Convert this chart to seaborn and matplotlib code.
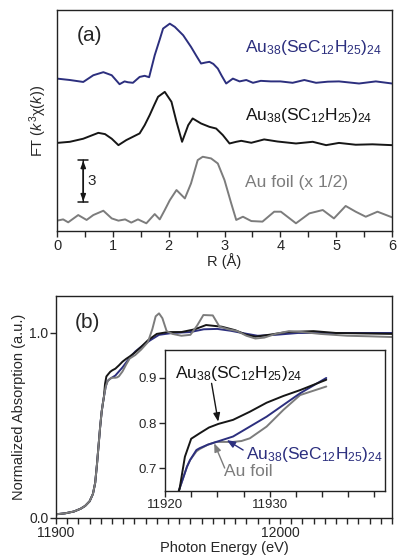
import numpy as np
import pandas as pd
import matplotlib
matplotlib.use("Agg")
import matplotlib.pyplot as plt
from matplotlib.ticker import MultipleLocator, FixedLocator
import seaborn as sns

# ---- panel (a): FT of k^3 chi(k), curves as shown (with vertical offsets) ----
sec_r = [0, 0.23, 0.47, 0.65, 0.83, 0.98, 1.12, 1.21, 1.27, 1.36, 1.48, 1.57, 1.65, 1.75,
         1.84, 1.9, 2.02, 2.11, 2.26, 2.4, 2.5, 2.58, 2.66, 2.73, 2.8, 2.88, 2.95, 3.03,
         3.15, 3.27, 3.39, 3.51, 3.65, 3.83, 4.0, 4.22, 4.43, 4.64, 4.85, 5.05, 5.41, 5.71, 6.0]
sec_ft = [10.9, 10.8, 10.66, 11.14, 11.36, 11.14, 10.5, 10.7, 10.64, 10.6, 11.02, 11.1, 11.0,
          12.57, 13.7, 14.48, 14.83, 14.6, 14.0, 13.17, 12.5, 11.98, 12.05, 12.1, 11.95,
          11.62, 11.1, 10.55, 10.9, 10.7, 10.8, 10.6, 10.74, 10.7, 10.7, 10.6, 10.8, 10.6,
          10.68, 10.7, 10.55, 10.7, 10.55]

sc_r = [0, 0.23, 0.47, 0.74, 0.86, 0.98, 1.1, 1.24, 1.42, 1.48, 1.57, 1.66, 1.74, 1.81, 1.93,
        2.05, 2.14, 2.24, 2.35, 2.43, 2.58, 2.73, 2.85, 2.97, 3.09, 3.21, 3.3, 3.48, 3.71,
        3.95, 4.28, 4.58, 4.82, 5.05, 5.35, 5.65, 6.0]
sc_ft = [6.3, 6.38, 6.6, 7.02, 6.93, 6.6, 6.14, 6.5, 6.86, 6.98, 7.57, 8.29, 9.0, 9.6, 9.95,
         9.24, 7.81, 6.38, 7.57, 8.05, 7.69, 7.45, 7.33, 6.86, 6.26, 6.38, 6.45, 6.31, 6.55,
         6.4, 6.26, 6.38, 6.14, 6.3, 6.17, 6.2, 6.14]

foil_r = [0, 0.11, 0.2, 0.38, 0.53, 0.65, 0.83, 0.98, 1.1, 1.22, 1.33, 1.45, 1.6, 1.75, 1.84,
          1.93, 2.02, 2.14, 2.29, 2.4, 2.52, 2.61, 2.76, 2.88, 3.0, 3.12, 3.21, 3.33, 3.48,
          3.68, 3.89, 4.01, 4.28, 4.52, 4.76, 4.96, 5.17, 5.35, 5.53, 5.74, 6.0]
foil_ft = [0.74, 0.83, 0.62, 1.14, 0.79, 1.14, 1.45, 0.9, 0.74, 0.83, 0.6, 0.83, 0.55, 1.21,
           0.83, 1.5, 2.2, 2.93, 2.33, 3.4, 5.07, 5.31, 5.19, 4.83, 3.64, 1.98, 0.79, 1.02,
           0.71, 0.67, 1.38, 1.38, 0.55, 1.26, 1.5, 0.9, 1.79, 1.38, 1.02, 1.38, 0.98]

scale_bar = 3  # FT units

# ---- panel (b): Au L3-edge XANES ----
edge_e = [11900, 11904, 11908, 11911, 11913, 11915, 11916.5, 11917.5, 11918.3, 11919.0,
          11919.7, 11920.4, 11921.0, 11921.4]
edge_a = [0.02, 0.025, 0.035, 0.05, 0.065, 0.09, 0.13, 0.19, 0.29, 0.39, 0.49, 0.575, 0.625, 0.655]

sc_e = [11921.9, 11922.2, 11922.5, 11923.3, 11924.2, 11925.1, 11926.5, 11928.1, 11929.7,
        11931.3, 11932.9, 11935.4, 11938, 11941, 11945, 11950, 11956, 11962, 11967, 11974,
        11980, 11985, 11989, 11995, 12003, 12015, 12025, 12035, 12050]
sc_a = [0.725, 0.745, 0.765, 0.777, 0.79, 0.798, 0.807, 0.825, 0.845, 0.86, 0.873, 0.896,
        0.925, 0.96, 0.995, 1.005, 1.005, 1.02, 1.043, 1.034, 1.015, 0.99, 0.98, 0.99,
        1.005, 1.01, 1.0, 0.998, 0.995]

sec_e = [11922.1, 11922.4, 11923.0, 11923.3, 11924.1, 11924.9, 11926.5, 11928.1, 11929.7,
         11931.3, 11932.9, 11935.4, 11938, 11942, 11946, 11952, 11960, 11966, 11972, 11978,
         11984, 11990, 11998, 12008, 12020, 12035, 12050]
sec_a = [0.703, 0.718, 0.74, 0.744, 0.752, 0.758, 0.77, 0.792, 0.814, 0.84, 0.866, 0.9, 0.925,
         0.96, 0.99, 1.0, 1.005, 1.02, 1.022, 1.012, 0.998, 0.985, 0.99, 1.0, 1.0, 1.0, 1.0]

foil_e = [11922.1, 11922.4, 11923.0, 11923.3, 11924.1, 11924.9, 11926.5, 11927.3, 11928.1,
          11929.7, 11931.3, 11932.9, 11935.4, 11938, 11941, 11943, 11944.5, 11946,
          11947.5, 11949.4, 11952, 11956, 11960, 11963, 11965.8, 11970, 11973, 11977,
          11981, 11985, 11989, 11993, 11998, 12004, 12010, 12018, 12030, 12040, 12050]
foil_a = [0.703, 0.718, 0.737, 0.742, 0.752, 0.758, 0.758, 0.76, 0.766, 0.792, 0.829, 0.862,
          0.881, 0.91, 0.95, 1.02, 1.09, 1.106, 1.08, 1.01, 0.995, 0.985, 0.99, 1.04, 1.097,
          1.095, 1.034, 1.02, 1.01, 0.985, 0.97, 0.975, 0.995, 1.01, 1.005, 0.995, 0.985,
          0.982, 0.978]

inset_end = 11935.4

lbl_sec = r"Au$_{38}$(SeC$_{12}$H$_{25}$)$_{24}$"
lbl_sc = r"Au$_{38}$(SC$_{12}$H$_{25}$)$_{24}$"

BLUE = "#2c2f7e"
BLACK = "#161616"
GRAY = "#7c7c7c"

sns.set_style("ticks")
plt.rcParams["font.family"] = ["Liberation Sans", "DejaVu Sans"]
plt.rcParams["mathtext.fontset"] = "custom"
plt.rcParams["mathtext.rm"] = "Liberation Sans"
plt.rcParams["mathtext.it"] = "Liberation Sans:italic"
plt.rcParams["mathtext.default"] = "regular"
plt.rcParams["axes.linewidth"] = 1.0
plt.rcParams["xtick.direction"] = "out"
plt.rcParams["ytick.direction"] = "out"

fig = plt.figure(figsize=(3.97, 5.55), dpi=100)
ax_a = fig.add_axes([0.1436, 0.5838, 0.8438, 0.398])
ax_b = fig.add_axes([0.141, 0.0667, 0.8464, 0.4])
ax_in = fig.add_axes([0.4156, 0.1153, 0.554, 0.254])

lw = 1.4

# panel (a)
for r, ft, c in [(foil_r, foil_ft, GRAY), (sc_r, sc_ft, BLACK), (sec_r, sec_ft, BLUE)]:
    sns.lineplot(x=r, y=ft, ax=ax_a, color=c, lw=lw, sort=False, estimator=None)
ax_a.set_xlim(0, 6)
ax_a.set_ylim(0, 15.8)
ax_a.set_yticks([])
ax_a.xaxis.set_major_locator(MultipleLocator(1))
ax_a.xaxis.set_minor_locator(MultipleLocator(0.5))
ax_a.tick_params(axis="x", which="both", length=4, width=1, labelsize=10.5, pad=2)
ax_a.set_xlabel("R (Å)", fontsize=10.5, labelpad=0)
ax_a.set_ylabel(r"FT ($\mathit{k}^3\chi(\mathit{k})$)", fontsize=10.5, labelpad=6)
ax_a.text(0.36, 14.0, "(a)", fontsize=15, va="center")
ax_a.text(3.375, 13.14, lbl_sec, color=BLUE, fontsize=12.5, va="center")
ax_a.text(3.375, 8.29, lbl_sc, color=BLACK, fontsize=12.5, va="center")
ax_a.text(3.375, 3.5, "Au foil (x 1/2)", color=GRAY, fontsize=12.5, va="center")
bar_lo = 2.07
ax_a.annotate("", xy=(0.47, bar_lo + scale_bar), xytext=(0.47, bar_lo),
              arrowprops=dict(arrowstyle="|-|,widthA=0.35,widthB=0.35", lw=1.1, color=BLACK,
                              shrinkA=0, shrinkB=0))
ax_a.annotate("", xy=(0.47, bar_lo + scale_bar), xytext=(0.47, bar_lo),
              arrowprops=dict(arrowstyle="<|-|>,head_length=0.4,head_width=0.15", lw=1.1,
                              color=BLACK, shrinkA=0.5, shrinkB=0.5))
ax_a.text(0.55, bar_lo + scale_bar / 2, str(scale_bar), fontsize=11, va="center")

# panel (b)
curves_b = [(sec_e, sec_a, BLUE), (sc_e, sc_a, BLACK), (foil_e, foil_a, GRAY)]
for e, a, c in curves_b:
    xe = edge_e + e
    ya = edge_a + a
    sns.lineplot(x=xe, y=ya, ax=ax_b, color=c, lw=lw, sort=False, estimator=None)
ax_b.set_xlim(11900, 12050)
ax_b.set_ylim(0, 1.2)
ax_b.xaxis.set_major_locator(FixedLocator([11900, 11950, 12000, 12050]))
ax_b.set_xticklabels(["11900", "", "12000", ""])
ax_b.xaxis.set_minor_locator(MultipleLocator(5))
ax_b.set_yticks([0.0, 1.0])
ax_b.set_yticklabels(["0.0", "1.0"])
ax_b.tick_params(which="both", length=4, width=1, labelsize=10, pad=1.5)
ax_b.set_xlabel("Photon Energy (eV)", fontsize=10.5, labelpad=1)
ax_b.set_ylabel("Normalized Absorption (a.u.)", fontsize=10.5, labelpad=2)
ax_b.text(11908.5, 1.054, "(b)", fontsize=15, va="center")

# inset
for e, a, c in [(foil_e, foil_a, GRAY), (sec_e, sec_a, BLUE), (sc_e, sc_a, BLACK)]:
    xe = np.array(edge_e + e)
    ya = np.array(edge_a + a)
    keep = xe <= inset_end
    sns.lineplot(x=xe[keep], y=ya[keep], ax=ax_in, color=c, lw=lw, sort=False, estimator=None)
ax_in.set_xlim(11920, 11941)
ax_in.set_ylim(0.649, 0.962)
ax_in.xaxis.set_major_locator(FixedLocator([11920, 11930]))
ax_in.xaxis.set_minor_locator(MultipleLocator(2.5))
ax_in.yaxis.set_major_locator(FixedLocator([0.7, 0.8, 0.9]))
ax_in.tick_params(which="both", length=4, width=1, labelsize=9.5, pad=1.5)
ax_in.set_xlabel("")
ax_in.set_ylabel("")

ax_in.text(11920.95, 0.911, lbl_sc, color=BLACK, fontsize=12.5, va="center")
ax_in.text(11927.7, 0.729, lbl_sec, color=BLUE, fontsize=12.5, va="center")
ax_in.text(11925.6, 0.692, "Au foil", color=GRAY, fontsize=12.5, va="center")
arrow_kw = dict(arrowstyle="-|>,head_length=0.5,head_width=0.2", lw=1.0, shrinkA=0, shrinkB=0)
ax_in.annotate("", xy=(11925.08, 0.803), xytext=(11924.45, 0.888),
               arrowprops=dict(color=BLACK, **arrow_kw))
ax_in.annotate("", xy=(11925.9, 0.762), xytext=(11927.46, 0.74),
               arrowprops=dict(color=BLUE, **arrow_kw))
ax_in.annotate("", xy=(11924.7, 0.755), xytext=(11925.7, 0.70),
               arrowprops=dict(color=GRAY, **arrow_kw))

for ax in (ax_a, ax_b, ax_in):
    for s in ax.spines.values():
        s.set_visible(True)
        s.set_linewidth(1.0)
        s.set_color("#222222")

fig.savefig("out.png", dpi=100)
